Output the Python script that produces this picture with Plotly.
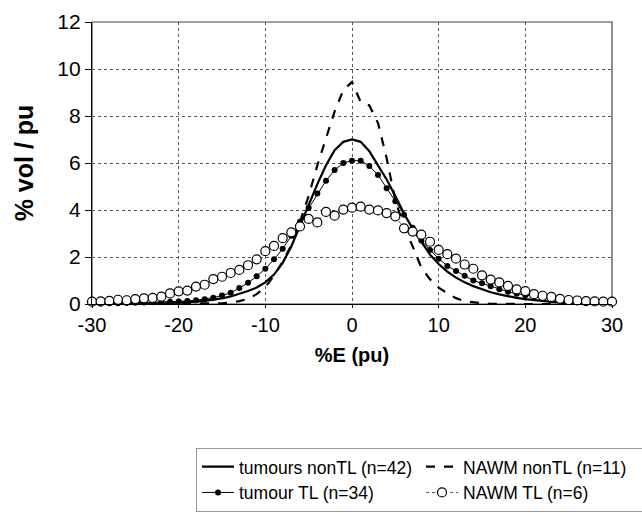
import plotly.graph_objects as go

# %E (pu) positions
pe = [-30, -29, -28, -27, -26, -25, -24, -23, -22, -21, -20, -19, -18, -17, -16,
      -15, -14, -13, -12, -11, -10, -9, -8, -7, -6, -5, -4, -3, -2, -1, 0,
      1, 2, 3, 4, 5, 6, 7, 8, 9, 10, 11, 12, 13, 14, 15,
      16, 17, 18, 19, 20, 21, 22, 23, 24, 25, 26, 27, 28, 29, 30]

tumours_nonTL = [0.0, 0.0, 0.01, 0.01, 0.01, 0.02, 0.02, 0.03, 0.03, 0.04, 0.05,
                 0.07, 0.10, 0.13, 0.18, 0.24, 0.32, 0.42, 0.55, 0.70, 0.92,
                 1.25, 1.75, 2.45, 3.35, 4.25, 5.10, 5.90, 6.55, 6.90, 7.00,
                 6.90, 6.50, 5.90, 5.30, 4.60, 3.85, 3.20, 2.65, 2.10, 1.70,
                 1.38, 1.12, 0.92, 0.76, 0.63, 0.50, 0.41, 0.33, 0.26, 0.21,
                 0.16, 0.12, 0.09, 0.07, 0.05, 0.04, 0.03, 0.02, 0.02, 0.01]

nawm_nonTL = [0.0, 0.0, 0.0, 0.0, 0.0, 0.0, 0.0, 0.0, 0.0, 0.0, 0.0,
              0.0, 0.0, 0.0, 0.01, 0.03, 0.06, 0.12, 0.22, 0.42, 0.72,
              1.20, 1.80, 2.50, 3.50, 4.60, 5.90, 7.10, 8.20, 9.10, 9.45,
              8.60, 8.45, 7.70, 6.20, 4.40, 3.30, 2.45, 1.55, 1.05, 0.70,
              0.45, 0.25, 0.12, 0.06, 0.03, 0.01, 0.0, 0.0, 0.0, 0.0,
              0.0, 0.0, 0.0, 0.0, 0.0, 0.0, 0.0, 0.0, 0.0, 0.0]

tumour_TL = [0.02, 0.02, 0.03, 0.03, 0.04, 0.05, 0.06, 0.07, 0.08, 0.10, 0.11,
             0.13, 0.16, 0.20, 0.27, 0.36, 0.48, 0.68, 0.90, 1.18, 1.50,
             1.90, 2.35, 2.90, 3.50, 4.10, 4.70, 5.25, 5.70, 6.00, 6.10,
             6.10, 5.87, 5.49, 4.93, 4.37, 3.80, 3.25, 2.70, 2.30, 1.93,
             1.62, 1.40, 1.20, 1.00, 0.88, 0.76, 0.63, 0.52, 0.44, 0.37,
             0.32, 0.26, 0.22, 0.19, 0.16, 0.13, 0.11, 0.09, 0.08, 0.07]

nawm_TL = [0.10, 0.11, 0.13, 0.18, 0.16, 0.21, 0.24, 0.26, 0.31, 0.45, 0.54,
           0.57, 0.74, 0.82, 1.06, 1.16, 1.32, 1.45, 1.65, 1.90, 2.25,
           2.47, 2.80, 3.05, 3.30, 3.62, 3.47, 3.92, 3.76, 4.02, 4.10,
           4.14, 4.02, 3.98, 3.87, 3.73, 3.22, 3.08, 2.95, 2.65, 2.30,
           2.12, 1.93, 1.68, 1.50, 1.22, 1.04, 0.92, 0.77, 0.62, 0.55,
           0.42, 0.35, 0.30, 0.22, 0.17, 0.15, 0.12, 0.11, 0.10, 0.10]

x_ticks = [-30, -20, -10, 0, 10, 20, 30]
y_ticks = [0, 2, 4, 6, 8, 10, 12]

FONT = "Arial, 'Liberation Sans', sans-serif"

fig = go.Figure()
fig.add_trace(go.Scatter(
    x=pe, y=tumours_nonTL, mode="lines", name="tumours nonTL (n=42)",
    line=dict(color="black", width=2.2), cliponaxis=False))
fig.add_trace(go.Scatter(
    x=pe, y=nawm_nonTL, mode="lines", name="NAWM nonTL (n=11)",
    line=dict(color="black", width=2.2, dash="dash"), cliponaxis=False))
fig.add_trace(go.Scatter(
    x=pe, y=tumour_TL, mode="lines+markers", name="tumour TL (n=34)",
    line=dict(color="black", width=1),
    marker=dict(size=6, color="black"), cliponaxis=False))
fig.add_trace(go.Scatter(
    x=pe, y=nawm_TL, mode="lines+markers", name="NAWM TL (n=6)",
    line=dict(color="#555555", width=1, dash="dot"),
    marker=dict(symbol="circle", size=9, color="white",
                line=dict(color="black", width=1.2)), cliponaxis=False))

fig.update_layout(
    width=642, height=513,
    margin=dict(l=92, r=30, t=22, b=209, autoexpand=False),
    paper_bgcolor="white", plot_bgcolor="white",
    font=dict(family=FONT, color="black", size=20),
    showlegend=True,
    legend=dict(
        orientation="h", x=0.2, xanchor="left", y=-0.51, yanchor="top",
        font=dict(size=17.5, family=FONT, color="black"),
        bordercolor="#999999", borderwidth=1,
        itemwidth=32, entrywidth=177, entrywidthmode="pixels",
        tracegroupgap=0, bgcolor="white"),
    xaxis=dict(
        range=[-30, 30], tickvals=x_ticks, ticktext=[str(v) for v in x_ticks],
        showgrid=True, gridcolor="#555555", griddash="dot", gridwidth=1.3,
        zeroline=False, showline=True, linecolor="black", linewidth=1.3,
        ticks="outside", ticklen=3, tickcolor="black", tickwidth=1,
        tickfont=dict(size=20),
        title=dict(text="<b>%E (pu)</b>", font=dict(size=20), standoff=12)),
    yaxis=dict(
        range=[0, 12], tickvals=y_ticks, ticktext=[str(v) for v in y_ticks],
        showgrid=True, gridcolor="#555555", griddash="dot", gridwidth=1.3,
        zeroline=False, showline=True, linecolor="black", linewidth=1.3,
        ticks="outside", ticklen=6, tickcolor="black", tickwidth=1,
        tickfont=dict(size=21),
        title=dict(text="<b>% vol / pu</b>", font=dict(size=25), standoff=16)),
    shapes=[dict(type="rect", xref="paper", yref="paper", x0=0, x1=1, y0=0, y1=1,
                 line=dict(color="#444444", width=1.2), layer="below")],
)

fig.write_html("out.html")
